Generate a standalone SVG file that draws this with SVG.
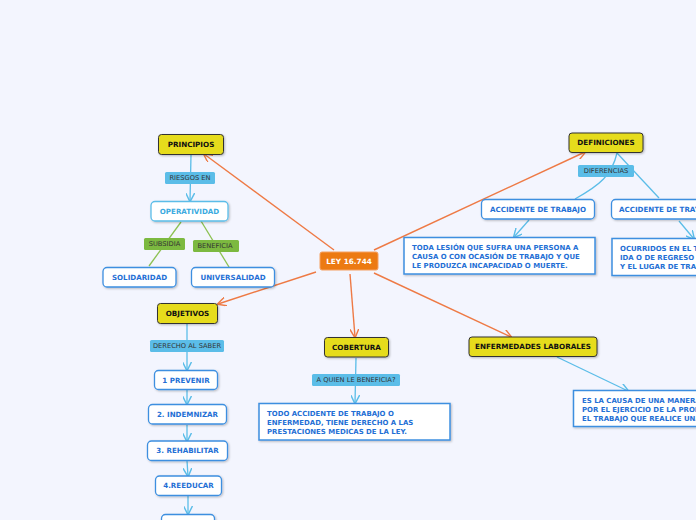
<svg xmlns="http://www.w3.org/2000/svg" width="696" height="520" viewBox="0 0 696 520">
<defs>
<marker id="ao" viewBox="0 0 10 10" refX="9" refY="5" markerWidth="9" markerHeight="9" markerUnits="userSpaceOnUse" orient="auto"><path d="M0,0 L10,5 L0,10" fill="none" stroke="#ee7a45" stroke-width="1.6"/></marker>
<marker id="ab" viewBox="0 0 10 10" refX="9" refY="5" markerWidth="9" markerHeight="9" markerUnits="userSpaceOnUse" orient="auto"><path d="M0,0 L10,5 L0,10" fill="none" stroke="#5bbde8" stroke-width="1.6"/></marker>
<filter id="sh" x="-10%" y="-20%" width="130%" height="160%"><feDropShadow dx="1" dy="1" stdDeviation="0.8" flood-color="#000" flood-opacity="0.25"/></filter>
</defs>
<style>
text{font-family:"DejaVu Sans","Liberation Sans",sans-serif;}
.y{fill:#e6dc1d;stroke:#333;stroke-width:1;filter:url(#sh);}
.yt{font-size:7.2px;font-weight:bold;fill:#111;text-anchor:middle;}
.w{fill:#fff;stroke:#3d8fe0;stroke-width:1.3;filter:url(#sh);}
.wt{font-size:7.1px;font-weight:bold;fill:#1f6fd5;text-anchor:middle;}
.bx{fill:#fff;stroke:#3d8fe0;stroke-width:1.5;filter:url(#sh);}
.bt{font-size:6.95px;font-weight:bold;fill:#1f6fd5;}
.lb{fill:#5bbde8;}
.lg{fill:#7cb940;}
.lt{font-size:6.7px;fill:#333;text-anchor:middle;}
.o{stroke:#ee7a45;stroke-width:1.4;fill:none;marker-end:url(#ao);}
.b{stroke:#5bbde8;stroke-width:1.3;fill:none;}
.ba{stroke:#5bbde8;stroke-width:1.3;fill:none;marker-end:url(#ab);}
.g{stroke:#8cc152;stroke-width:1.3;fill:none;}
</style>
<rect width="696" height="520" fill="#f3f5fe"/>
<g id="connectors">
<line class="o" x1="334" y1="250" x2="204" y2="154"/>
<line class="o" x1="316" y1="272" x2="218" y2="304"/>
<line class="o" x1="350" y1="274" x2="355" y2="337"/>
<line class="o" x1="374" y1="273" x2="511" y2="337"/>
<line class="o" x1="374" y1="250" x2="585" y2="152"/>
<line class="ba" x1="191" y1="155" x2="190" y2="201"/>
<line class="g" x1="181" y1="222" x2="149" y2="266"/>
<line class="g" x1="201" y1="221" x2="229" y2="267"/>
<line class="ba" x1="187" y1="324" x2="187" y2="370"/>
<line class="ba" x1="187" y1="390" x2="187" y2="404"/>
<line class="ba" x1="187" y1="425" x2="187" y2="441"/>
<line class="ba" x1="187" y1="461" x2="188" y2="476"/>
<line class="ba" x1="188" y1="496" x2="188" y2="514"/>
<line class="ba" x1="356" y1="358" x2="355" y2="403"/>
<line class="ba" x1="557" y1="357" x2="628" y2="391"/>
<path class="b" d="M617,153 C612,175 600,185 575,199"/>
<line class="b" x1="617" y1="153" x2="659" y2="198"/>
<line class="ba" x1="529" y1="220" x2="514" y2="237"/>
<line class="ba" x1="679" y1="221" x2="694" y2="239"/>
</g>
<g id="lbl-riesgos"><rect class="lb" x="165" y="172" width="50" height="12" rx="1.5"/><text class="lt" x="190" y="180.4">RIESGOS EN</text></g>
<g id="lbl-subsidia"><rect class="lg" x="144" y="238" width="41" height="12" rx="1.5"/><text class="lt" x="164.5" y="246.4">SUBSIDIA</text></g>
<g id="lbl-beneficia"><rect class="lg" x="193" y="240" width="46" height="12" rx="1.5"/><text class="lt" x="215" y="248.4">BENEFICIA</text></g>
<g id="lbl-derecho"><rect class="lb" x="150" y="340" width="74" height="12" rx="1.5"/><text class="lt" x="187" y="348.4">DERECHO AL SABER</text></g>
<g id="lbl-quien"><rect class="lb" x="312" y="374" width="88" height="12" rx="1.5"/><text class="lt" x="356" y="382.4">A QUIEN LE BENEFICIA?</text></g>
<g id="lbl-diferencias"><rect class="lb" x="578" y="165" width="56" height="12" rx="1.5"/><text class="lt" x="606" y="173.4">DIFERENCIAS</text></g>
<g id="ley"><rect x="320" y="252" width="58" height="18" rx="2" fill="#ec7a12" stroke="#f5a060" stroke-width="1"/><text x="349" y="263.6" font-size="7.3" font-weight="bold" fill="#fff" text-anchor="middle">LEY 16.744</text></g>
<g id="principios"><rect class="y" x="158.5" y="134.5" width="65" height="20" rx="3"/><text class="yt" x="191" y="147">PRINCIPIOS</text></g>
<g id="operatividad"><rect class="w" x="151" y="201.5" width="77" height="19.5" rx="4" style="stroke:#5bbde8"/><text class="wt" x="189.5" y="213.8" style="fill:#3aaae0">OPERATIVIDAD</text></g>
<g id="solidaridad"><rect class="w" x="103" y="267.5" width="73" height="19.5" rx="4"/><text class="wt" x="139.5" y="279.8">SOLIDARIDAD</text></g>
<g id="universalidad"><rect class="w" x="191.5" y="267.5" width="83" height="19.5" rx="4"/><text class="wt" x="233" y="279.8">UNIVERSALIDAD</text></g>
<g id="objetivos"><rect class="y" x="157.5" y="303.5" width="60" height="20" rx="3"/><text class="yt" x="187.5" y="316">OBJETIVOS</text></g>
<g id="prevenir"><rect class="w" x="154.5" y="370.5" width="63" height="19" rx="4"/><text class="wt" x="186" y="382.6">1 PREVENIR</text></g>
<g id="indemnizar"><rect class="w" x="148.5" y="404.5" width="78" height="19.5" rx="4"/><text class="wt" x="187.5" y="416.8">2. INDEMNIZAR</text></g>
<g id="rehabilitar"><rect class="w" x="147.5" y="441" width="80" height="19.5" rx="4"/><text class="wt" x="187.5" y="453.3">3. REHABILITAR</text></g>
<g id="reeducar"><rect class="w" x="155.5" y="476" width="66" height="19.5" rx="4"/><text class="wt" x="188.5" y="488.3">4.REEDUCAR</text></g>
<g id="next"><rect class="w" x="161.5" y="514.5" width="53" height="19.5" rx="4"/></g>
<g id="cobertura"><rect class="y" x="324.5" y="337.5" width="64" height="19.5" rx="3"/><text class="yt" x="356.5" y="349.8">COBERTURA</text></g>
<g id="cobertura-txt"><rect class="bx" x="259" y="403.5" width="191" height="36.5"/><text class="bt" x="267" y="415.5">TODO ACCIDENTE DE TRABAJO O</text><text class="bt" x="267" y="424.5">ENFERMEDAD, TIENE DERECHO A LAS</text><text class="bt" x="267" y="433.5">PRESTACIONES MEDICAS DE LA LEY.</text></g>
<g id="enfermedades"><rect class="y" x="469" y="337" width="128" height="19.5" rx="3"/><text class="yt" x="533" y="349.3">ENFERMEDADES LABORALES</text></g>
<g id="enfermedades-txt"><rect class="bx" x="573.5" y="390.5" width="140" height="36"/><text class="bt" x="582" y="402.5">ES LA CAUSA DE UNA MANERA DIRECTA</text><text class="bt" x="582" y="411.5">POR EL EJERCICIO DE LA PROFESIÓN O</text><text class="bt" x="582" y="420.5">EL TRABAJO QUE REALICE UNA PERSONA</text></g>
<g id="definiciones"><rect class="y" x="569" y="133" width="74" height="19.5" rx="3"/><text class="yt" x="606" y="145.3">DEFINICIONES</text></g>
<g id="accidente-trabajo"><rect class="w" x="481.5" y="199.5" width="113" height="19.5" rx="4"/><text class="wt" x="538" y="211.8">ACCIDENTE DE TRABAJO</text></g>
<g id="accidente-trayecto"><rect class="w" x="611.5" y="199.5" width="120" height="19.5" rx="4"/><text class="wt" x="619" y="211.8" style="text-anchor:start">ACCIDENTE DE TRAYECTO</text></g>
<g id="trabajo-txt"><rect class="bx" x="404" y="237.5" width="191" height="36.5"/><text class="bt" x="412" y="249.5">TODA LESIÓN QUE SUFRA UNA PERSONA A</text><text class="bt" x="412" y="258.5">CAUSA O CON OCASIÓN DE TRABAJO Y QUE</text><text class="bt" x="412" y="267.5">LE PRODUZCA INCAPACIDAD O MUERTE.</text></g>
<g id="trayecto-txt"><rect class="bx" x="612" y="238.5" width="140" height="37"/><text class="bt" x="620" y="251">OCURRIDOS EN EL TRAYECTO DE</text><text class="bt" x="620" y="260">IDA O DE REGRESO ENTRE EL DOMICILIO</text><text class="bt" x="620" y="269">Y EL LUGAR DE TRABAJO</text></g>
</svg>
